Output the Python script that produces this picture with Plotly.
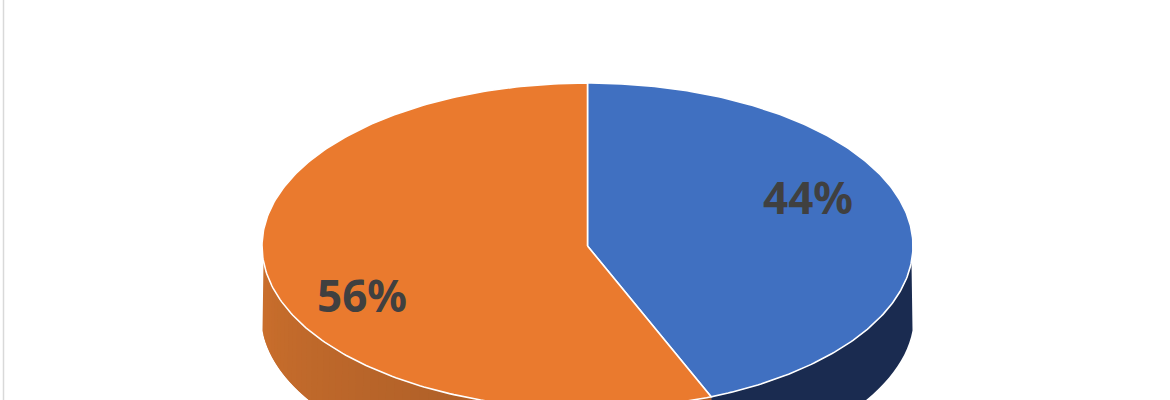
import numpy as np
import plotly.graph_objects as go

# Data
categories = ["A", "B"]
values = [43.8, 56.2]
top_colors = ["#4070C1", "#EA7A2E"]
label_pos = [(808, 197), (362, 295)]

# Pie geometry, pixels of the 1170x400 page
CX, CY, RX, RY, DEPTH = 587.5, 246.0, 325.5, 163.0, 69.0
EDGE_SKIP = np.radians(5.5)


def pt(a, dy=0.0, grow=0.0):
    """a: clockwise angle from 12 o'clock, radians."""
    return CX + (RX + grow) * np.sin(a), CY - RY * np.cos(a) + dy


def mix(c1, c2, t):
    c = [int(round(p + (q - p) * t)) for p, q in zip(c1, c2)]
    return f"rgb({c[0]},{c[1]},{c[2]})"


total = sum(values)
fractions = [v / total for v in values]
boundary = 2 * np.pi * fractions[0]

fig = go.Figure()


def side_piece(a0, a1, color):
    a = np.linspace(a0, a1, 30)
    x0, y0 = pt(a)
    x1, y1 = pt(a[::-1], DEPTH, 1.0)
    fig.add_trace(go.Scatter(
        x=np.r_[x0, x1], y=np.r_[y0, y1], mode="none", fill="toself",
        fillcolor=color, hoverinfo="skip"))


# Front wall: blue slice (right), dark navy
side_piece(np.pi / 2 + EDGE_SKIP, boundary, "#1A2B50")

# Front wall: orange slice, shaded left to right; each piece overlaps the next
orange_left, orange_dark = (201, 110, 44), (174, 95, 40)
left_end = 3 * np.pi / 2 - EDGE_SKIP
steps = np.linspace(left_end, boundary, 61)
for i in range(59, -1, -1):
    t = min(1.0, i / 36)
    side_piece(steps[min(i + 2, 60)], steps[i], mix(orange_left, orange_dark, t))

# Top face wedges, built from the values
start = 0.0
for frac, color, name in zip(fractions, top_colors, categories):
    end = start + frac * 2 * np.pi
    a = np.linspace(start, end, 240)
    x, y = pt(a)
    fig.add_trace(go.Scatter(
        x=np.r_[CX, x, CX], y=np.r_[CY, y, CY], mode="lines", fill="toself",
        fillcolor=color, line=dict(color="#FFFFFF", width=1.6),
        name=name, hoverinfo="skip"))
    start = end

annotations = [
    dict(x=px, y=py, text=f"{frac:.0%}", showarrow=False, xref="x", yref="y",
         font=dict(family="Noto Sans", size=44, color="#404040", weight="bold"))
    for frac, (px, py) in zip(fractions, label_pos)
]

fig.update_layout(
    width=1170, height=400, margin=dict(l=0, r=0, t=0, b=0),
    paper_bgcolor="#FFFFFF", plot_bgcolor="#FFFFFF", showlegend=False,
    xaxis=dict(range=[0, 1170], visible=False, fixedrange=True),
    yaxis=dict(range=[400, 0], visible=False, fixedrange=True),
    annotations=annotations,
    shapes=[dict(type="line", xref="x", yref="paper", x0=3.5, x1=3.5, y0=0, y1=1,
                 line=dict(color="#D9D9D9", width=1.5))],
)
fig.write_html("out.html", config={"displayModeBar": False},
               post_script="document.body.style.margin='0';document.body.style.overflow='hidden';")
